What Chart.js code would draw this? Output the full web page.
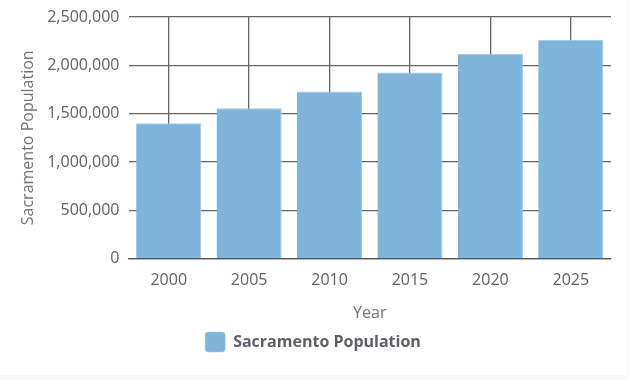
<!DOCTYPE html>
<html>
<head>
<meta charset="utf-8">
<script src="https://cdn.jsdelivr.net/npm/chart.js@4"></script>
<style>
  html, body { margin: 0; padding: 0; background: #f8f8f8; }
  #wrap { position: absolute; left: 0; top: 0; width: 627px; height: 375px; background: #fff; }
</style>
</head>
<body>
<div id="wrap"><canvas id="chart"></canvas></div>
<script>
const years = ['2000', '2005', '2010', '2015', '2020', '2025'];
const population = [1400000, 1555000, 1730000, 1925000, 2120000, 2265000];
const seriesLabel = 'Sacramento Population';

const ctx = document.getElementById('chart').getContext('2d');
new Chart(ctx, {
  type: 'bar',
  data: {
    labels: years,
    datasets: [{
      label: seriesLabel,
      data: population,
      backgroundColor: 'rgb(127, 181, 216)',
      borderColor: 'rgb(160, 200, 228)',
      borderWidth: { top: 1, right: 1, left: 0, bottom: 0 },
      barPercentage: 0.9,
      categoryPercentage: 0.9
    }]
  },
  options: {
    responsive: true,
    maintainAspectRatio: false,
    animation: false,
    layout: { padding: { left: 15, right: 16, top: 0, bottom: 13 } },
    plugins: {
      legend: {
        position: 'bottom',
        labels: {
          color: '#5f5f68',
          font: { family: 'Open Sans', size: 16, weight: 'bold' },
          boxWidth: 20,
          boxHeight: 20,
          useBorderRadius: true,
          borderRadius: 3,
          padding: 9
        }
      },
      tooltip: { enabled: false }
    },
    scales: {
      x: {
        grid: { color: '#66666e', lineWidth: 1.3, offset: false, drawTicks: false },
        border: { color: '#55555c', width: 1.3 },
        ticks: { color: '#5f5f68', font: { family: 'Open Sans', size: 16 }, padding: 12 },
        title: { display: true, text: 'Year', color: '#74747c', font: { family: 'Open Sans', size: 16 }, padding: { top: 2, bottom: 0 } }
      },
      y: {
        min: 0,
        max: 2500000,
        grid: { color: '#66666e', lineWidth: 1.3, drawTicks: false },
        border: { display: false },
        ticks: {
          stepSize: 500000,
          color: '#5f5f68',
          font: { family: 'Open Sans', size: 16, lineHeight: 1.0 },
          padding: 9,
          callback: v => v.toLocaleString('en-US')
        },
        title: { display: true, text: seriesLabel, color: '#74747c', font: { family: 'Open Sans', size: 16 }, padding: { top: 4, bottom: 0 } }
      }
    }
  }
});
</script>
</body>
</html>
